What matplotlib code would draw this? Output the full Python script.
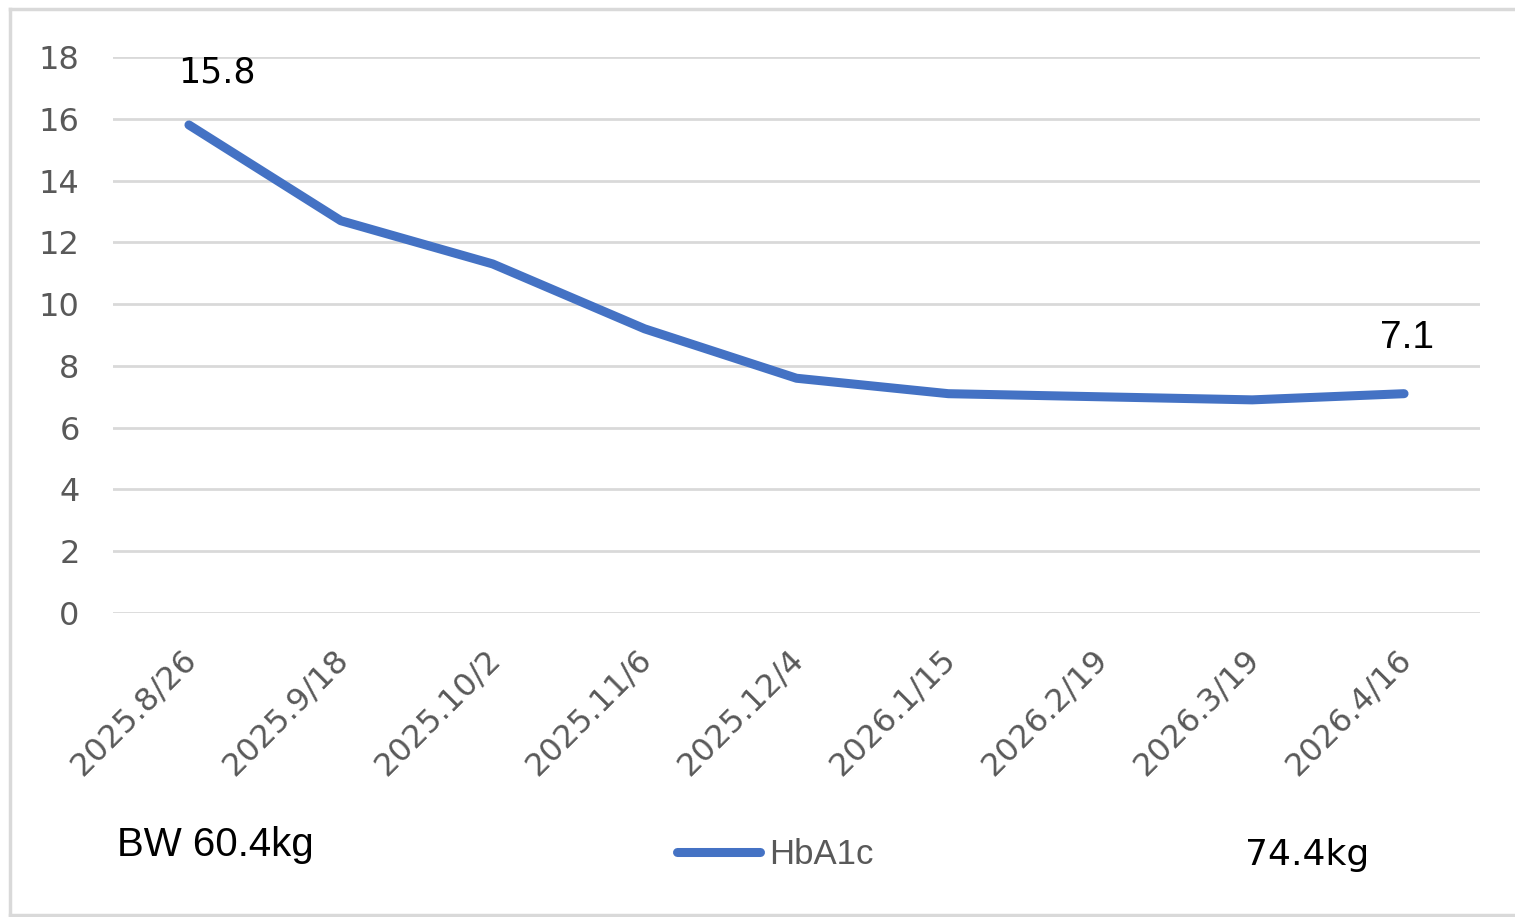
import matplotlib
matplotlib.use("Agg")
import matplotlib.pyplot as plt
from matplotlib.lines import Line2D
from matplotlib.transforms import ScaledTranslation

plt.rcParams["font.family"] = ["DejaVu Sans"]

categories = ["2025.8/26", "2025.9/18", "2025.10/2", "2025.11/6", "2025.12/4",
              "2026.1/15", "2026.2/19", "2026.3/19", "2026.4/16"]
hba1c = [15.8, 12.7, 11.3, 9.2, 7.6, 7.1, 7.0, 6.9, 7.1]
yticks = [0, 2, 4, 6, 8, 10, 12, 14, 16, 18]
series_name = "HbA1c"
note_left = "BW 60.4kg"
note_right = "74.4kg"

W, H = 1515, 917
fig = plt.figure(figsize=(W / 100, H / 100), dpi=100)
fig.patch.set_facecolor("white")

ax = fig.add_axes([113 / W, 1 - 613 / H, (1480 - 113) / W, (613 - 57) / H])
x = list(range(len(categories)))
ax.plot(x, hba1c, color="#4472C4", linewidth=6.5, solid_capstyle="round",
        solid_joinstyle="round", zorder=3)
ax.set_xlim(-0.5, len(categories) - 0.5)
ax.set_ylim(0, 18)
ax.set_yticks(yticks)
ax.set_xticks(x)
ax.set_xticklabels(categories, rotation=45, ha="right", rotation_mode="anchor",
                   fontsize=23, color="#595959")
ax.tick_params(axis="x", length=0, pad=22)
ax.tick_params(axis="y", length=0, pad=24, labelsize=23, labelcolor="#595959")
shift = ScaledTranslation(-0.08, 0, fig.dpi_scale_trans)
for lbl in ax.get_xticklabels():
    lbl.set_transform(lbl.get_transform() + shift)
ax.grid(axis="y", color="#D9D9D9", linewidth=2)
ax.set_axisbelow(True)
for s in ax.spines.values():
    s.set_visible(False)

ax.annotate(f"{hba1c[0]}", (x[0], hba1c[0]), xytext=(28, 52), textcoords="offset pixels",
            ha="center", va="center", fontsize=25, color="black")
ax.annotate(f"{hba1c[-1]}", (x[-1], hba1c[-1]), xytext=(3, 56), textcoords="offset pixels",
            ha="center", va="center", fontsize=28, color="black", family="Liberation Sans")

fig.text(117 / W, 1 - 845 / H, note_left, fontsize=29, color="black",
         family="Liberation Sans", ha="left", va="center")
fig.text(1245 / W, 1 - 855 / H, note_right, fontsize=26, color="black",
         ha="left", va="center")

leg = fig.legend([Line2D([0], [0], color="#4472C4", linewidth=6.5, solid_capstyle="round")],
                 [series_name], loc="center", bbox_to_anchor=(775 / W, 1 - 855 / H),
                 frameon=False, fontsize=25, handlelength=2.4, handletextpad=0.25)
for t in leg.get_texts():
    t.set_color("#595959")
    t.set_family("Liberation Sans")

fig.add_artist(Line2D([10 / W, 1], [1 - 9 / H, 1 - 9 / H], color="#D9D9D9", linewidth=2.5))
fig.add_artist(Line2D([10 / W, 10 / W], [1 - 9 / H, 1 - 915 / H], color="#D9D9D9", linewidth=2.5))
fig.add_artist(Line2D([10 / W, 1], [1 - 915 / H, 1 - 915 / H], color="#D9D9D9", linewidth=2.5))

fig.savefig("out.png", dpi=100)
